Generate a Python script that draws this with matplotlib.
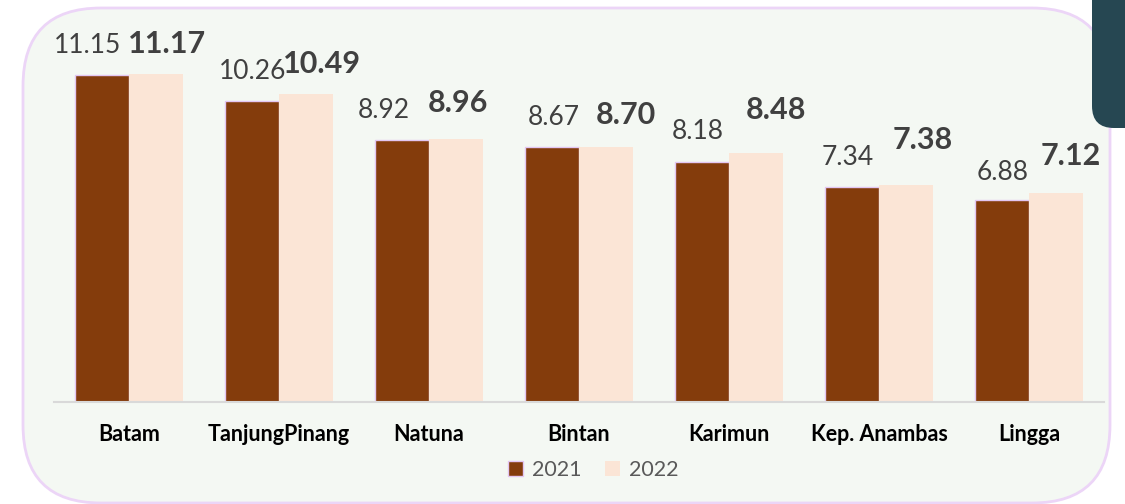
import matplotlib.pyplot as plt
from matplotlib.patches import FancyBboxPatch, Patch

# data
regions = ['Batam', 'TanjungPinang', 'Natuna', 'Bintan', 'Karimun', 'Kep. Anambas', 'Lingga']
val_2021 = [11.15, 10.26, 8.92, 8.67, 8.18, 7.34, 6.88]
val_2022 = [11.17, 10.49, 8.96, 8.70, 8.48, 7.38, 7.12]

# label nudges in pixels (dx, dy above bar top), mimicking the excel placement
off_2021 = [(-14, 29), (1, 29), (-18, 30), (2, 30), (-4, 30), (-4, 29), (1, 28)]
off_2022 = [(11, 30), (16, 30), (2, 36), (20, 32), (20, 43), (17, 45), (15, 37)]

c21 = '#843C0C'
c22 = '#FBE5D6'
fnt = 'Lato'

fig = plt.figure(figsize=(11.25, 5.04), dpi=100)
fig.patch.set_facecolor('white')

# background panel in pixel coords
bg = fig.add_axes([0, 0, 1, 1])
bg.set_xlim(0, 1125)
bg.set_ylim(504, 0)
bg.axis('off')
bg.add_patch(FancyBboxPatch((23, 8), 1087, 495, boxstyle='round,pad=0,rounding_size=78',
                            facecolor='#F4F8F3', edgecolor='#ECD5F7', linewidth=2))
bg.add_patch(FancyBboxPatch((1092, -60), 80, 188, boxstyle='round,pad=0,rounding_size=22',
                            facecolor='#264752', edgecolor='none'))

ax = fig.add_axes([54 / 1125, 102 / 504, 1050 / 1125, 0.699])
ax.set_facecolor('none')
x = list(range(len(regions)))
w = 0.36
b1 = ax.bar([i - w / 2 for i in x], val_2021, w, color=c21, edgecolor='#E3C6F2', linewidth=1, label='2021')
b2 = ax.bar([i + w / 2 for i in x], val_2022, w, color=c22, edgecolor='none', label='2022')

for rect, v, (dx, dy) in zip(b1, val_2021, off_2021):
    ax.annotate(f'{v:.2f}', (rect.get_x() + rect.get_width() / 2, v), xytext=(dx * 0.72, dy * 0.72),
                textcoords='offset points', ha='center', va='center', fontsize=19, color='#404040',
                family=fnt)
for rect, v, (dx, dy) in zip(b2, val_2022, off_2022):
    ax.annotate(f'{v:.2f}', (rect.get_x() + rect.get_width() / 2, v), xytext=(dx * 0.72, dy * 0.72),
                textcoords='offset points', ha='center', va='center', fontsize=22, color='#404040',
                family=fnt, fontweight='bold')

ax.set_xlim(-0.5, len(regions) - 0.5)
ax.set_ylim(0, 12)
ax.set_xticks(x)
ax.set_xticklabels(regions, fontsize=15.5, fontweight='bold', family=fnt, color='black')
ax.tick_params(axis='x', length=0, pad=16)
ax.set_yticks([])
for s in ['top', 'right', 'left']:
    ax.spines[s].set_visible(False)
ax.spines['bottom'].set_color('#D9D9D9')
ax.spines['bottom'].set_linewidth(1.5)

handles = [Patch(facecolor=c21, edgecolor='#E3C6F2'), Patch(facecolor=c22, edgecolor='none')]
leg = fig.legend(handles, ['2021', '2022'], loc='center', bbox_to_anchor=(593 / 1125, 1 - 470 / 504),
                 ncol=2, frameon=False, handlelength=0.7, handleheight=0.7, handletextpad=0.4,
                 columnspacing=1.1, prop={'family': fnt, 'size': 15.5})
for t in leg.get_texts():
    t.set_color('#595959')

fig.savefig('out.png', dpi=100)
